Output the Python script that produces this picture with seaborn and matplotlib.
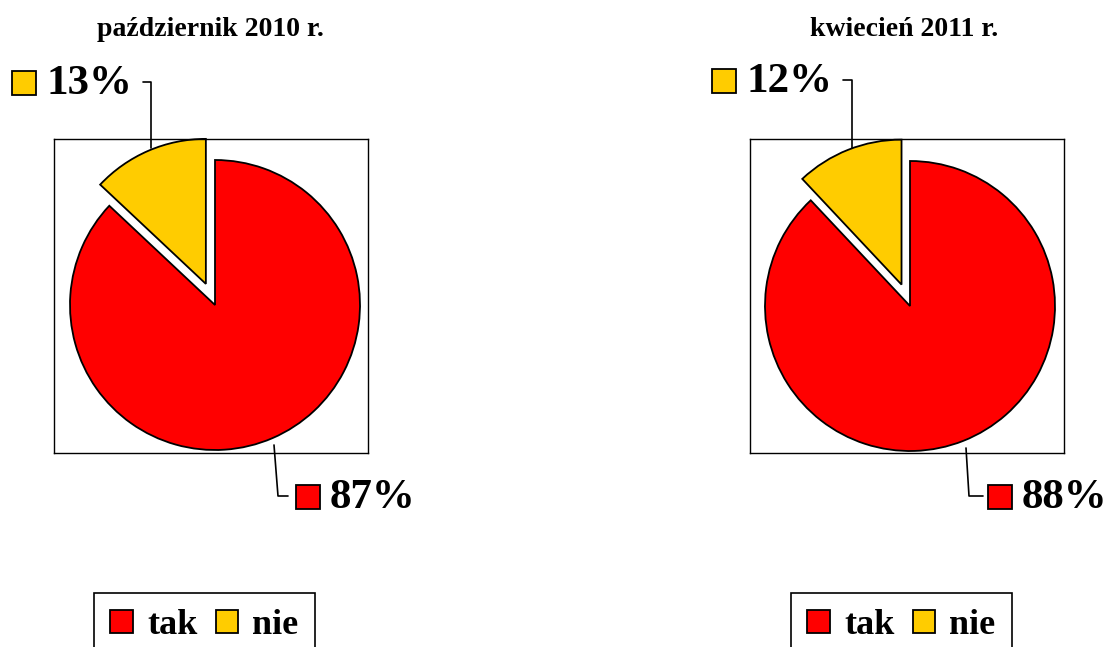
import matplotlib
matplotlib.use("Agg")
import matplotlib.pyplot as plt
from matplotlib.patches import Patch, Rectangle
from matplotlib.lines import Line2D
import seaborn as sns

# ---- data ----
categories = ["tak", "nie"]
titles = ["październik 2010 r.", "kwiecień 2011 r."]
values_2010 = [87, 13]
values_2011 = [88, 12]
colors = ["#FF0000", "#FFCC00"]

sns.set_theme(style="white")
plt.rcParams['font.family'] = ['Liberation Serif', 'DejaVu Serif']
plt.rcParams['text.color'] = 'black'

W, H = 1110, 647
fig = plt.figure(figsize=(W / 100, H / 100), dpi=100)


def fx(x):
    return x / W


def fy(y):
    return 1 - y / H


def add_pie(values, title, box_left, title_x, center, label_small, label_big):
    box_top, size = 139, 314
    ax = fig.add_axes([fx(box_left), fy(box_top + size), size / W, size / H])
    ax.pie(values, colors=colors, startangle=90, counterclock=False,
           explode=[0, 23], radius=145, center=center,
           wedgeprops=dict(edgecolor="black", linewidth=1.3))
    ax.set_axis_on()
    ax.set_frame_on(True)
    ax.set_xlim(0, size)
    ax.set_ylim(0, size)
    ax.set_aspect("auto")
    ax.set_xticks([])
    ax.set_yticks([])
    for s in ax.spines.values():
        s.set_visible(True)
        s.set_color("black")
        s.set_linewidth(1.0)
    ax.patch.set_alpha(0)

    fig.text(fx(title_x), fy(30), title, ha="center", va="center",
             fontsize=20, fontweight="bold", color="black")

    for sq_x, sq_y, txt, pts, col in (label_small, label_big):
        fig.add_artist(Rectangle((fx(sq_x), fy(sq_y + 24)), 24 / W, 24 / H,
                                 transform=fig.transFigure, facecolor=col,
                                 edgecolor="black", linewidth=1.3))
        fig.text(fx(sq_x + 34), fy(sq_y + 13), txt, ha="left", va="center",
                 fontsize=31, fontweight="bold", color="black")
        xs = [fx(p[0]) for p in pts]
        ys = [fy(p[1]) for p in pts]
        fig.add_artist(Line2D(xs, ys, transform=fig.transFigure,
                              color="black", linewidth=1.2))


add_pie(values_2010, titles[0], 54, 210, (161, 148),
        (12, 71, f"{values_2010[1]}%", [(143, 82), (151, 82), (151, 148)], colors[1]),
        (296, 485, f"{values_2010[0]}%", [(274, 445), (278, 496), (288, 496)], colors[0]))
add_pie(values_2011, titles[1], 750, 904, (160, 147),
        (712, 69, f"{values_2011[1]}%", [(843, 80), (852, 80), (852, 148)], colors[1]),
        (988, 485, f"{values_2011[0]}%", [(966, 448), (969, 496), (983, 496)], colors[0]))

handles = [Patch(facecolor=c, edgecolor="black", linewidth=1.3) for c in colors]
for cx in (204.5, 901.5):
    leg = fig.legend(handles, categories, loc="upper center",
                     bbox_to_anchor=(fx(cx), fy(593)), ncol=2, frameon=True,
                     fancybox=False, edgecolor="black", framealpha=1,
                     prop=dict(family="Liberation Serif", weight="bold", size=26),
                     handlelength=0.62, handleheight=0.62, handletextpad=0.4,
                     columnspacing=0.5, borderpad=0.45, borderaxespad=0)
    leg.get_frame().set_linewidth(1.2)
    for t in leg.get_texts():
        t.set_color("black")

fig.savefig("out.png", dpi=100)
